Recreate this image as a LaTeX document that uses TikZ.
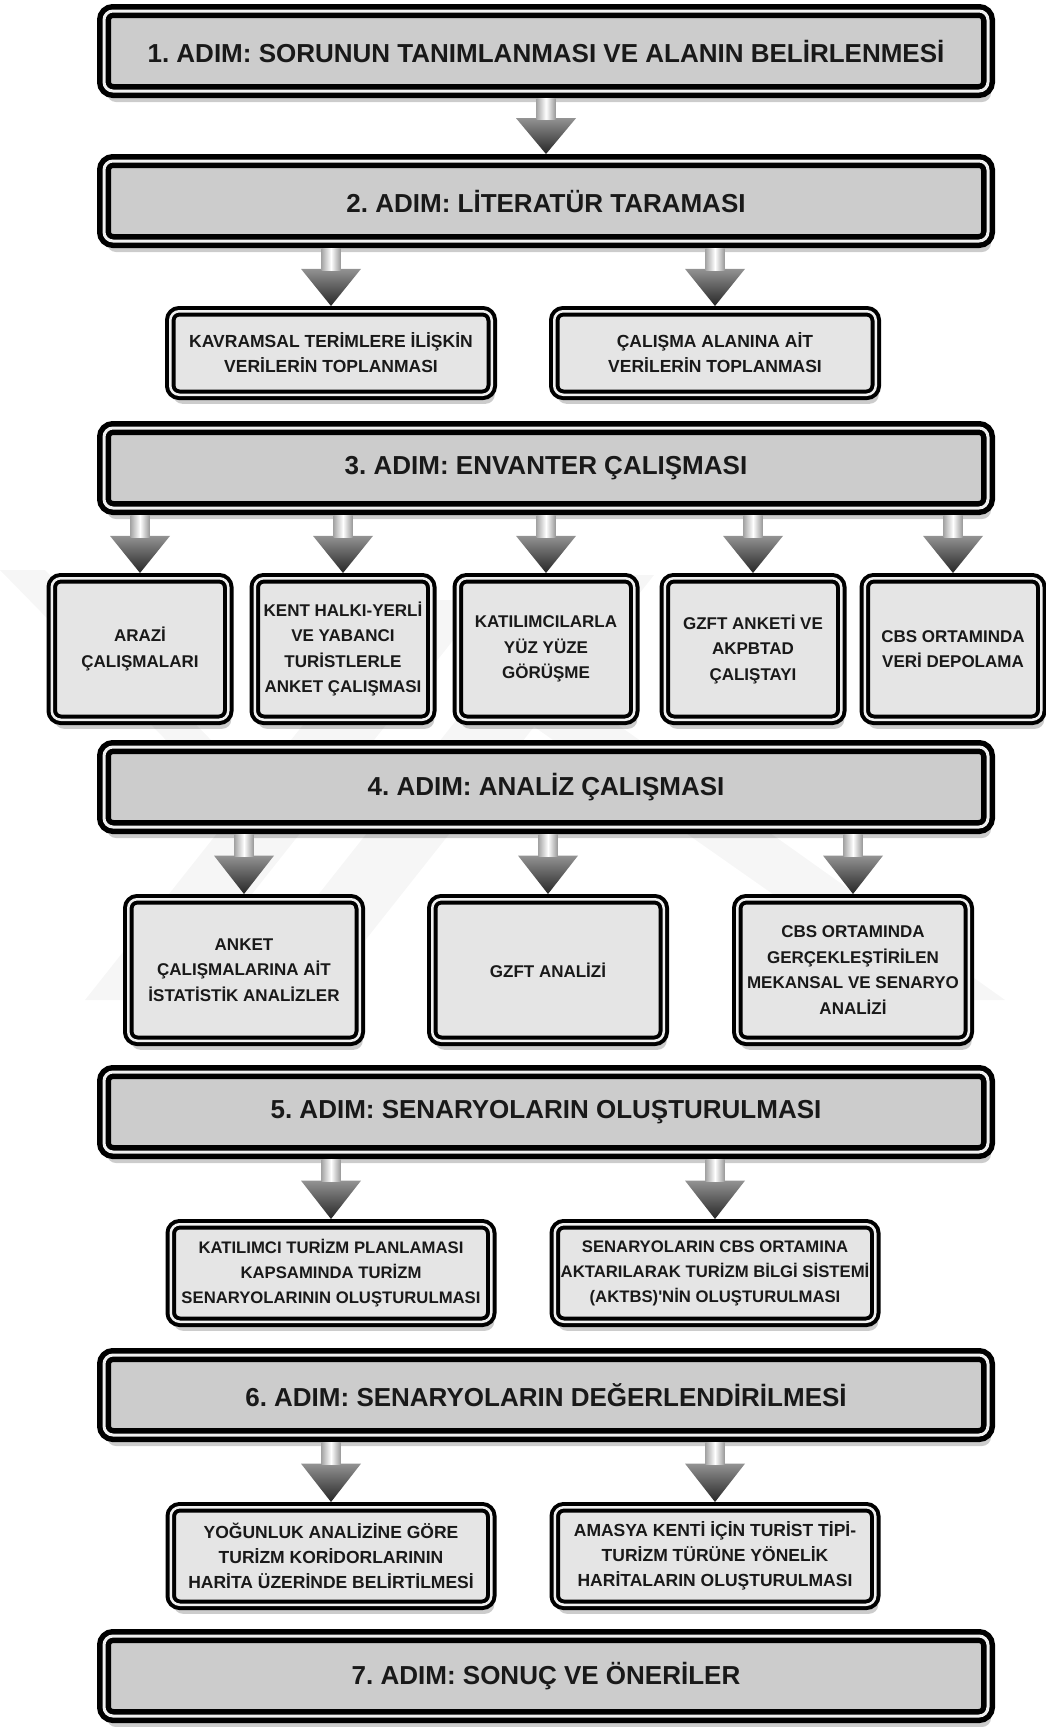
\documentclass[tikz,border=0pt]{standalone}
\usepackage{fontspec}
\newfontfamily\stepfont{Liberation Sans}
\usetikzlibrary{positioning,shadows,calc}
\frenchspacing

\tikzset{
	mainstep/.style={
		rectangle, rounded corners=9pt,
		drop shadow={shadow xshift=3pt, shadow yshift=-11pt, opacity=0.2, fill=black},
		draw=black, line width=5.5pt, double=gray!12, double distance=3pt,
		fill=gray!40, inner sep=2pt, outer sep=7pt,
		minimum width=884pt, minimum height=80pt,
		align=center, text=black!90,
		font=\stepfont\bfseries\fontsize{26}{30}\selectfont},
	substep/.style={
		rectangle, rounded corners=9pt,
		drop shadow={shadow xshift=3pt, shadow yshift=-9pt, opacity=0.2, fill=black},
		draw=black, line width=4pt, double=gray!12, double distance=2.5pt,
		fill=gray!20, inner sep=2pt, outer sep=5.25pt,
		align=center, text=black!90,
		font=\stepfont\bfseries\fontsize{17.5}{25}\selectfont},
	wide/.style={minimum width=321.5pt, minimum height=83.5pt},
	tall/.style={minimum width=176.5pt, minimum height=141.5pt,
		font=\stepfont\bfseries\fontsize{17}{25.5}\selectfont},
	mid/.style={minimum width=231.5pt, minimum height=141.5pt,
		font=\stepfont\bfseries\fontsize{17}{25.5}\selectfont},
	low/.style={minimum width=320.5pt, minimum height=97.5pt},
	watermark/.style={fill=gray!7}
}

% block arrow from box #1 down to box #2
\newcommand{\flowarrow}[2]{%
	\path[top color=gray!85, bottom color=black!85]
		let \p1=(#1.south -| #2.north), \p2=(#2.north), \n1={\y1-\y2} in
		(\x2-30pt,{\y1-0.36*\n1*1pt}) -- (\x2+30pt,{\y1-0.36*\n1*1pt}) -- (\x2,\y2) -- cycle;
	\path[left color=gray!70, right color=gray!80, middle color=white]
		let \p1=(#1.south -| #2.north), \p2=(#2.north), \n1={\y1-\y2} in
		(\x2-9.5pt,\y1) rectangle (\x2+9.5pt,{\y1-0.38*\n1*1pt});
}

\begin{document}
\begin{tikzpicture}[x=1pt, y=-1pt]

	\useasboundingbox (0,0) rectangle (1046,1727);

	% faint watermark
	\path[watermark] (0,570) -- (45,570) -- (250,780) -- (205,780) -- cycle;
	\path[watermark] (85,1000) -- (168,1000) -- (485,600) -- (402,600) -- cycle;
	\path[watermark] (235,1000) -- (318,1000) -- (654,575) -- (571,575) -- cycle;
	\path[watermark] (496,700) -- (583,700) -- (1005,1000) -- (924,1000) -- cycle;

	\node (step1) [mainstep] at (546,51) {1. ADIM: SORUNUN TANIMLANMASI VE ALANIN BELİRLENMESİ};
	\node (step2) [mainstep] at (546,201) {2. ADIM: LİTERATÜR TARAMASI};

	\node (kavram) [substep, wide, below=58pt of step2, xshift=-215pt] {KAVRAMSAL TERİMLERE İLİŞKİN\\VERİLERİN TOPLANMASI};
	\node (alanveri) [substep, wide, below=58pt of step2, xshift=169pt] {ÇALIŞMA ALANINA AİT\\VERİLERİN TOPLANMASI};

	\node (step3) [mainstep] at (546,468) {3. ADIM: ENVANTER ÇALIŞMASI};

	\node (arazi) [substep, tall, below=58pt of step3, xshift=-406pt] {ARAZİ\\ÇALIŞMALARI};
	\node (anket) [substep, tall, below=58pt of step3, xshift=-203pt] {KENT HALKI-YERLİ\\VE YABANCI\\TURİSTLERLE\\ANKET ÇALIŞMASI};
	\node (yuzyuze) [substep, tall, below=58pt of step3] {KATILIMCILARLA\\YÜZ YÜZE\\GÖRÜŞME};
	\node (gzftanket) [substep, tall, below=58pt of step3, xshift=207pt] {GZFT ANKETİ VE\\AKPBTAD\\ÇALIŞTAYI};
	\node (cbsveri) [substep, tall, below=58pt of step3, xshift=407pt] {CBS ORTAMINDA\\VERİ DEPOLAMA};

	\node (step4) [mainstep] at (546,787) {4. ADIM: ANALİZ ÇALIŞMASI};

	\node (istatistik) [substep, mid, below=60pt of step4, xshift=-302pt] {ANKET\\ÇALIŞMALARINA AİT\\İSTATİSTİK ANALİZLER};
	\node (gzftanaliz) [substep, mid, below=60pt of step4, xshift=2pt] {GZFT ANALİZİ};
	\node (mekansal) [substep, mid, below=60pt of step4, xshift=307pt] {CBS ORTAMINDA\\GERÇEKLEŞTİRİLEN\\MEKANSAL VE SENARYO\\ANALİZİ};

	\node (step5) [mainstep] at (546,1112) {5. ADIM: SENARYOLARIN OLUŞTURULMASI};

	\node (katilimci) [substep, low, below=60pt of step5, xshift=-215pt, font=\stepfont\bfseries\fontsize{16.7}{25}\selectfont] {KATILIMCI TURİZM PLANLAMASI\\KAPSAMINDA TURİZM\\SENARYOLARININ OLUŞTURULMASI};
	\node (aktbs) [substep, low, below=60pt of step5, xshift=169pt, font=\stepfont\bfseries\fontsize{16.7}{25}\selectfont] {SENARYOLARIN CBS ORTAMINA\\AKTARILARAK TURİZM BİLGİ SİSTEMİ\\(AKTBS)'NİN OLUŞTURULMASI};

	\node (step6) [mainstep] at (546,1395) {6. ADIM: SENARYOLARIN DEĞERLENDİRİLMESİ};

	\node (yogunluk) [substep, low, below=60pt of step6, xshift=-215pt] {YOĞUNLUK ANALİZİNE GÖRE\\TURİZM KORİDORLARININ\\HARİTA ÜZERİNDE BELİRTİLMESİ};
	\node (haritalar) [substep, low, below=60pt of step6, xshift=169pt] {AMASYA KENTİ İÇİN TURİST TİPİ-\\TURİZM TÜRÜNE YÖNELİK\\HARİTALARIN OLUŞTURULMASI};

	\node (step7) [mainstep] at (546,1676) {7. ADIM: SONUÇ VE ÖNERİLER};

	% arrows
	\foreach \from/\to in {step1/step2, step2/kavram, step2/alanveri,
		step3/arazi, step3/anket, step3/yuzyuze, step3/gzftanket, step3/cbsveri,
		step4/istatistik, step4/gzftanaliz, step4/mekansal,
		step5/katilimci, step5/aktbs, step6/yogunluk, step6/haritalar}
		\flowarrow{\from}{\to};

\end{tikzpicture}
\end{document}
